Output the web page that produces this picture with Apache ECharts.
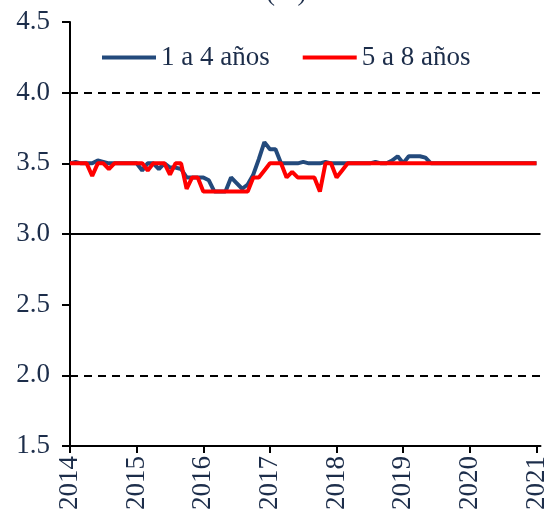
<!DOCTYPE html>
<html lang="es">
<head>
<meta charset="UTF-8" />
<title>Expectativas de inflación</title>
<script src="https://cdn.jsdelivr.net/npm/echarts@6/dist/echarts.min.js"></script>
<style>
  * { margin: 0; padding: 0; }
  #main { width: 550px; height: 514px; }
</style>
</head>
<body>
<div id="main"></div>
<script>
  // monthly series, Jan 2014 .. Jan 2021
  var startYear = 2014;
  var yearTicks = [2014, 2015, 2016, 2017, 2018, 2019, 2020, 2021];
  var seriesNames = ["1 a 4 años", "5 a 8 años"];

  var corto = [
    3.5, 3.51, 3.5, 3.5, 3.5, 3.52, 3.51, 3.5, 3.5, 3.5, 3.5, 3.5,
    3.5, 3.45, 3.5, 3.5, 3.46, 3.5, 3.47, 3.47, 3.46, 3.4, 3.4, 3.4,
    3.4, 3.38, 3.3, 3.3, 3.3, 3.4, 3.36, 3.32, 3.35, 3.42, 3.53, 3.65,
    3.6, 3.6, 3.5, 3.5, 3.5, 3.5, 3.51, 3.5, 3.5, 3.5, 3.51, 3.5,
    3.5, 3.5, 3.5, 3.5, 3.5, 3.5, 3.5, 3.51, 3.5, 3.5, 3.52, 3.55,
    3.5, 3.55, 3.55, 3.55, 3.54, 3.5, 3.5, 3.5, 3.5, 3.5, 3.5, 3.5,
    3.5, 3.5, 3.5, 3.5, 3.5, 3.5, 3.5, 3.5, 3.5, 3.5, 3.5, 3.5,
    3.5
  ];
  var largo = [
    3.5, 3.5, 3.5, 3.5, 3.41, 3.5, 3.5, 3.46, 3.5, 3.5, 3.5, 3.5,
    3.5, 3.5, 3.45, 3.5, 3.5, 3.5, 3.42, 3.5, 3.5, 3.32, 3.4, 3.4,
    3.3, 3.3, 3.3, 3.3, 3.3, 3.3, 3.3, 3.3, 3.3, 3.4, 3.4, 3.45,
    3.5, 3.5, 3.5, 3.4, 3.44, 3.4, 3.4, 3.4, 3.4, 3.3, 3.5, 3.5,
    3.4, 3.45, 3.5, 3.5, 3.5, 3.5, 3.5, 3.5, 3.5, 3.5, 3.5, 3.5,
    3.5, 3.5, 3.5, 3.5, 3.5, 3.5, 3.5, 3.5, 3.5, 3.5, 3.5, 3.5,
    3.5, 3.5, 3.5, 3.5, 3.5, 3.5, 3.5, 3.5, 3.5, 3.5, 3.5, 3.5,
    3.5
  ];

  function toPairs(arr) {
    return arr.map(function (v, i) { return [startYear + i / 12, v]; });
  }

  var fontFamily = "'Liberation Serif', 'Times New Roman', serif";
  var fontColor = "#1c2d4a";
  var fontSize = 27;

  var myChart = echarts.init(document.getElementById("main"));
  var option = {
    animation: false,
    backgroundColor: "#ffffff",
    graphic: [
      {
        type: "text",
        left: 266,
        top: -21,
        style: { text: "(%)", fontFamily: fontFamily, fontSize: fontSize, fill: fontColor }
      }
    ],
    grid: { left: 70, right: 5, top: 22, bottom: 68 },
    legend: {
      left: 97,
      top: 39,
      icon: "rect",
      itemWidth: 54,
      itemHeight: 4,
      itemGap: 33,
      textStyle: { fontFamily: fontFamily, fontSize: fontSize, color: fontColor },
      data: seriesNames
    },
    xAxis: {
      type: "value",
      min: startYear,
      max: 2021.06,
      axisLine: { lineStyle: { color: "#000", width: 2 } },
      axisTick: { customValues: yearTicks, length: 7, lineStyle: { color: "#000", width: 2 } },
      axisLabel: {
        customValues: yearTicks,
        rotate: 90,
        margin: 10,
        fontFamily: fontFamily,
        fontSize: fontSize,
        color: fontColor,
        formatter: function (v) { return String(v); }
      },
      splitLine: { show: false }
    },
    yAxis: {
      type: "value",
      min: 1.5,
      max: 4.5,
      interval: 0.5,
      axisLine: { show: true, lineStyle: { color: "#000", width: 2 } },
      axisTick: { show: true, length: 8, lineStyle: { color: "#000", width: 2 } },
      axisLabel: {
        margin: 20,
        fontFamily: fontFamily,
        fontSize: fontSize,
        color: fontColor,
        formatter: function (v) { return v.toFixed(1); }
      },
      splitLine: { show: false }
    },
    series: [
      {
        name: seriesNames[0],
        type: "line",
        symbol: "none",
        color: "#234a7c",
        lineStyle: { color: "#234a7c", width: 4 },
        data: toPairs(corto),
        markLine: {
          silent: true,
          symbol: "none",
          label: { show: false },
          data: [
            { yAxis: 4.0, lineStyle: { color: "#000", width: 2, type: [8, 6] } },
            { yAxis: 3.0, lineStyle: { color: "#000", width: 2, type: "solid" } },
            { yAxis: 2.0, lineStyle: { color: "#000", width: 2, type: [8, 6] } }
          ]
        }
      },
      {
        name: seriesNames[1],
        type: "line",
        symbol: "none",
        color: "#ff0000",
        lineStyle: { color: "#ff0000", width: 4 },
        data: toPairs(largo)
      }
    ]
  };
  myChart.setOption(option);
</script>
</body>
</html>
